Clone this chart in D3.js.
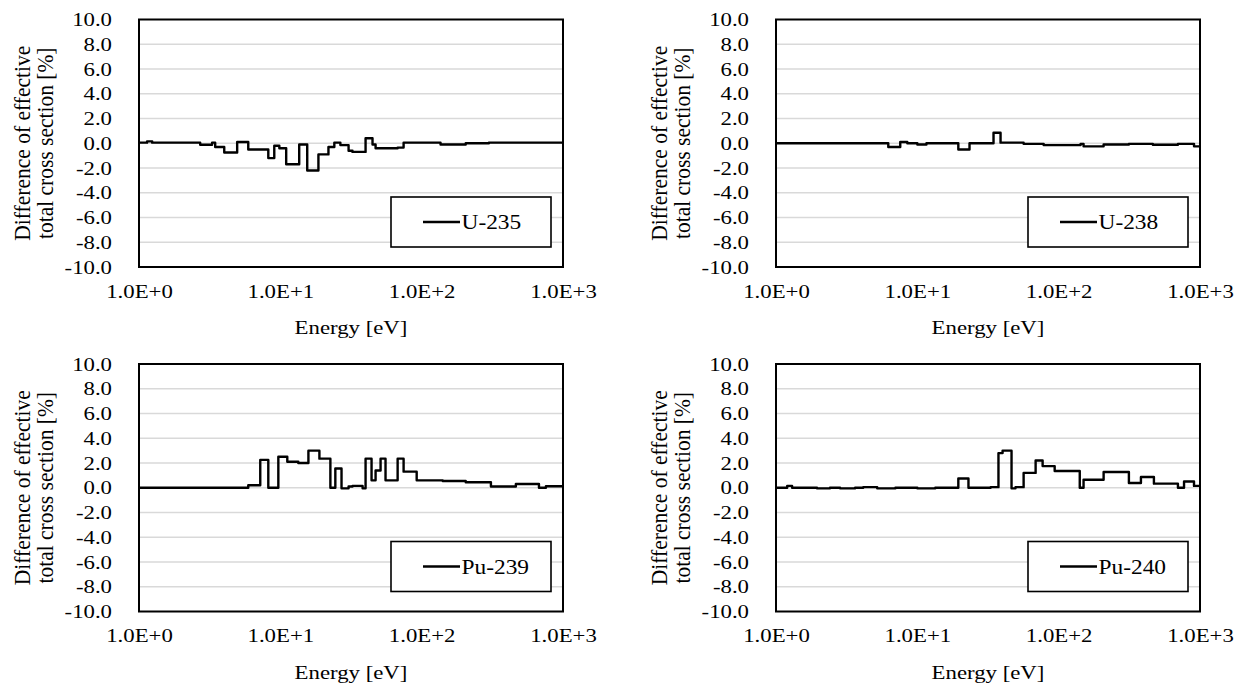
<!DOCTYPE html>
<html>
<head>
<meta charset="utf-8">
<script src="https://cdn.jsdelivr.net/npm/d3@7"></script>
<style>
  html, body { margin: 0; padding: 0; background: #fff; }
  svg { display: block; }
</style>
</head>
<body>
<svg id="chart" width="1246" height="690"></svg>
<script>
// ---------- data ----------
const energyTicks = [1, 10, 100, 1000];
const energyTickLabels = ["1.0E+0", "1.0E+1", "1.0E+2", "1.0E+3"];
const yTicks = [-10, -8, -6, -4, -2, 0, 2, 4, 6, 8, 10];
const yTickLabels = ["-10.0", "-8.0", "-6.0", "-4.0", "-2.0", "0.0", "2.0", "4.0", "6.0", "8.0", "10.0"];
const xTitle = "Energy [eV]";
const yTitleLines = ["Difference of effective", "total cross section [%]"];

const u235Edges = [1, 1.14, 1.24, 2.71, 3.29, 3.46, 4.01, 4.95, 5.93, 8.22, 9.06, 9.84, 11.0, 13.6, 15.5, 18.6, 21.9, 24.1, 26.6, 30.4, 32.4, 40.1, 44.9, 47.2, 67.6, 74.5, 136, 205, 299, 1000];
const u235Values = [0.05, 0.15, 0.05, -0.12, 0.05, -0.3, -0.75, 0.1, -0.5, -1.2, -0.2, -0.4, -1.7, -0.1, -2.2, -0.9, -0.3, 0.05, -0.15, -0.6, -0.7, 0.4, -0.1, -0.4, -0.35, 0.05, -0.1, 0.0, 0.05];

const u238Edges = [1, 6.23, 7.57, 8.49, 10.0, 11.6, 19.5, 23.4, 34.6, 38.8, 56.5, 78.3, 143, 150, 208, 314, 464, 698, 907, 1000];
const u238Values = [0.0, -0.3, 0.1, 0.0, -0.1, 0.0, -0.5, 0.0, 0.85, 0.05, -0.05, -0.15, -0.05, -0.25, -0.1, -0.05, -0.12, -0.05, -0.25];

const pu239Edges = [1, 5.93, 7.21, 8.22, 9.68, 11.2, 13.4, 15.8, 18.9, 22.6, 24.5, 27.1, 30.4, 32.4, 38.2, 40.1, 44.2, 47.2, 51.2, 55.5, 67.6, 74.5, 92.2, 141, 205, 309, 464, 676, 757, 1000];
const pu239Values = [0.0, 0.2, 2.25, 0.0, 2.5, 2.1, 2.0, 3.0, 2.35, 0.0, 1.55, -0.05, 0.1, 0.15, -0.05, 2.35, 0.6, 1.4, 2.35, 0.6, 2.35, 1.3, 0.6, 0.55, 0.45, 0.1, 0.3, 0.0, 0.12];

const pu240Edges = [1, 1.2, 1.3, 1.95, 2.41, 2.84, 3.63, 4.14, 5.2, 7.0, 10, 13.4, 19.5, 23.0, 33.0, 37.5, 40.1, 46.4, 49.5, 56.5, 68.7, 77.0, 93.7, 141, 150, 208, 314, 382, 472, 698, 771, 907, 1000];
const pu240Values = [0.0, 0.15, 0.0, -0.05, 0.0, -0.05, 0.0, 0.05, -0.05, 0.0, -0.05, 0.0, 0.75, 0.0, 0.05, 2.8, 3.0, -0.05, 0.05, 1.2, 2.2, 1.75, 1.35, 0.0, 0.65, 1.27, 0.38, 0.87, 0.33, 0.0, 0.5, 0.15];

// ---------- layout ----------
const svg = d3.select("#chart");
const FONT = "'Liberation Serif', 'Times New Roman', serif";
const SX = 1.2;      // horizontal stretch of the original text
const PW = 424, PH = 247.5;

const panels = [
  { name: "U-235",  edges: u235Edges,  values: u235Values,  px: 139, py: 19.5 },
  { name: "U-238",  edges: u238Edges,  values: u238Values,  px: 776, py: 19.5 },
  { name: "Pu-239", edges: pu239Edges, values: pu239Values, px: 139, py: 364 },
  { name: "Pu-240", edges: pu240Edges, values: pu240Values, px: 776, py: 364 }
];

panels.forEach(p => {
  const g = svg.append("g");
  const x = d3.scaleLog().domain([1, 1000]).range([p.px, p.px + PW]);
  const y = d3.scaleLinear().domain([-10, 10]).range([p.py + PH, p.py]);

  // gridlines
  g.append("g").selectAll("line")
    .data(yTicks.filter(v => v !== -10 && v !== 10))
    .join("line")
    .attr("x1", p.px).attr("x2", p.px + PW)
    .attr("y1", d => y(d)).attr("y2", d => y(d))
    .attr("stroke", "#d9d9d9").attr("stroke-width", 1.3);

  // data (step)
  const pts = p.values.map((v, i) => [p.edges[i], v]);
  pts.push([p.edges[p.edges.length - 1], p.values[p.values.length - 1]]);
  const line = d3.line().x(d => x(d[0])).y(d => y(d[1])).curve(d3.curveStepAfter);
  g.append("path").datum(pts)
    .attr("d", line)
    .attr("fill", "none").attr("stroke", "#000").attr("stroke-width", 2.4)
    .attr("stroke-linejoin", "round");

  // plot border
  g.append("rect")
    .attr("x", p.px).attr("y", p.py).attr("width", PW).attr("height", PH)
    .attr("fill", "none").attr("stroke", "#000").attr("stroke-width", 2);

  // y axis
  const ya = d3.axisLeft(y).tickValues(yTicks)
    .tickFormat((d, i) => yTickLabels[i]).tickSize(0).tickPadding(27);
  const yg = g.append("g").attr("transform", `translate(${p.px},0)`).call(ya);
  yg.select(".domain").remove();
  yg.selectAll("text")
    .attr("x", -27 / SX)
    .attr("transform", `scale(${SX},1)`)
    .style("font-family", FONT).style("font-size", "19px").attr("fill", "#000");

  // x axis
  const xa = d3.axisBottom(x).tickValues(energyTicks)
    .tickFormat((d, i) => energyTickLabels[i]).tickSize(0).tickPadding(17.5);
  const xg = g.append("g").attr("transform", `translate(0,${p.py + PH})`).call(xa);
  xg.select(".domain").remove();
  xg.selectAll("text")
    .attr("x", 0)
    .attr("transform", `scale(${SX},1)`)
    .style("font-family", FONT).style("font-size", "19px").attr("fill", "#000");

  // x title
  g.append("text")
    .attr("transform", `translate(${p.px + PW / 2},${p.py + PH + 67}) scale(${SX},1)`)
    .attr("text-anchor", "middle")
    .style("font-family", FONT).style("font-size", "19px")
    .text(xTitle);

  // y title (two lines, rotated)
  const cy = p.py + PH / 2;
  yTitleLines.forEach((t, i) => {
    g.append("text")
      .attr("transform", `translate(${p.px - 109 + i * 23},${cy}) rotate(-90) scale(1,1.12)`)
      .attr("text-anchor", "middle")
      .style("font-family", FONT).style("font-size", "21.5px")
      .text(t);
  });

  // legend
  const lx = p.px + 252, ly = p.py + 177.5;
  g.append("rect").attr("x", lx).attr("y", ly).attr("width", 160).attr("height", 50)
    .attr("fill", "#fff").attr("stroke", "#000").attr("stroke-width", 1.6);
  g.append("line")
    .attr("x1", lx + 32).attr("x2", lx + 69)
    .attr("y1", ly + 25).attr("y2", ly + 25)
    .attr("stroke", "#000").attr("stroke-width", 2.5);
  g.append("text")
    .attr("transform", `translate(${lx + 70.5},${ly + 32}) scale(1.17,1)`)
    .style("font-family", FONT).style("font-size", "20px")
    .text(p.name);
});
</script>
</body>
</html>
